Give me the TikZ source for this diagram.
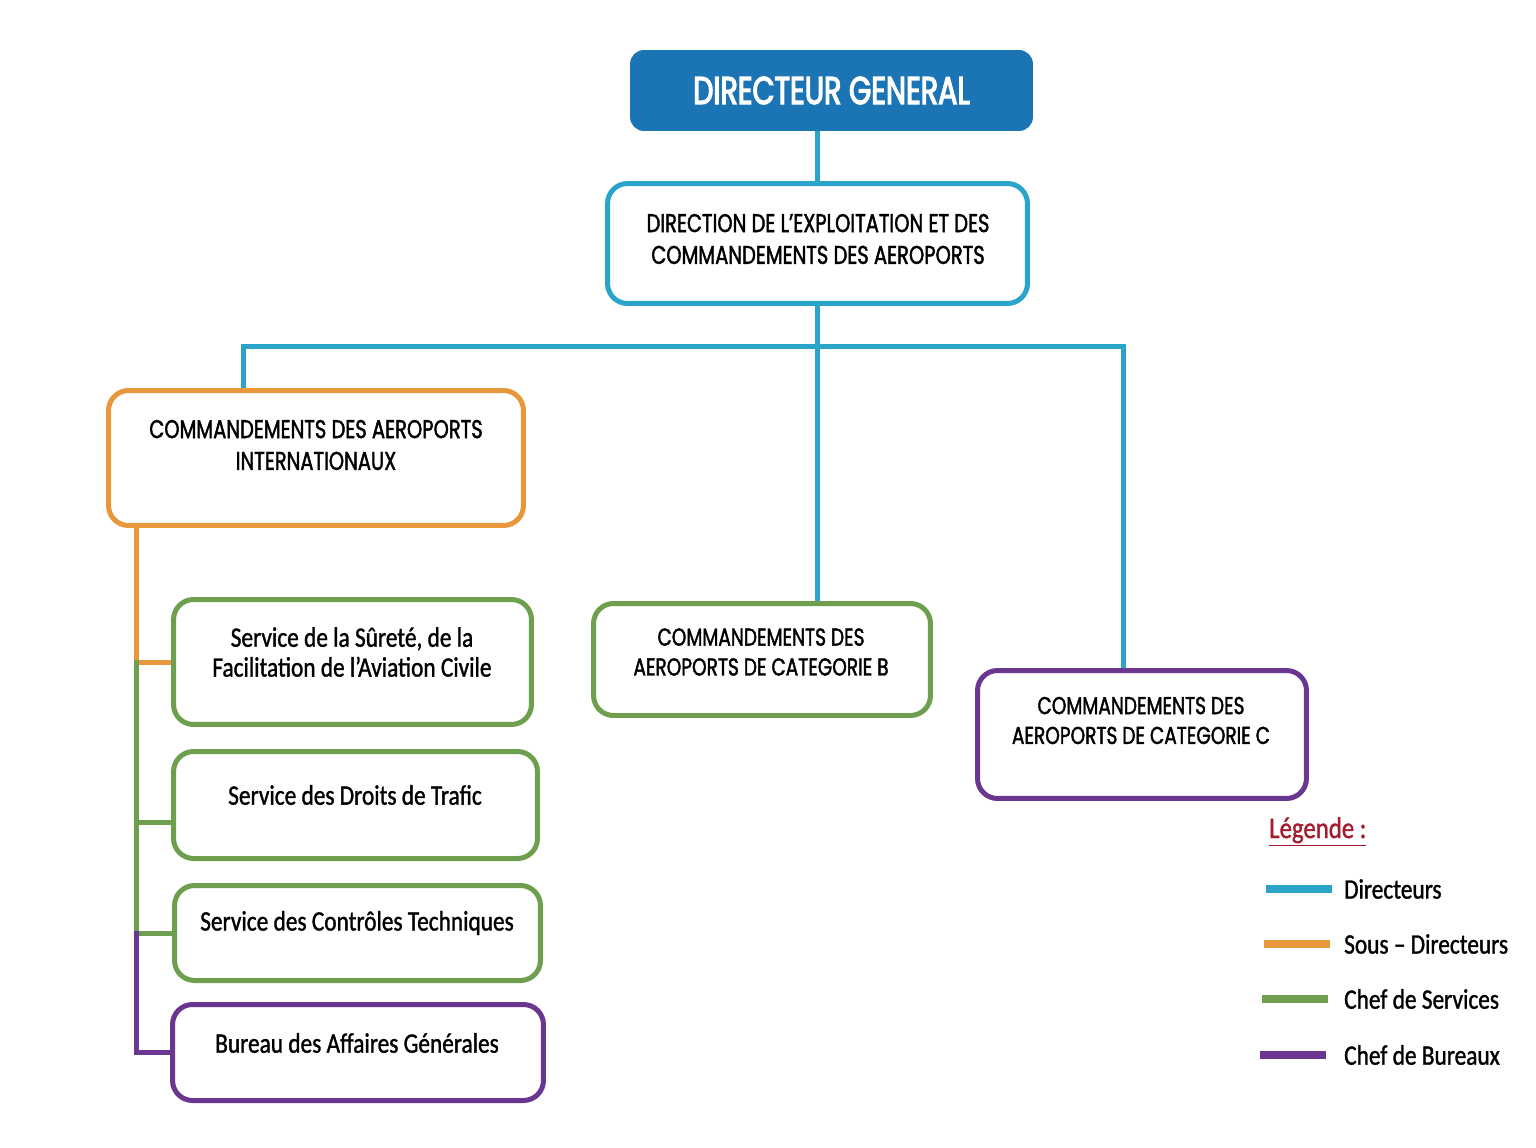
\documentclass[tikz,border=0pt]{standalone}
\usepackage{fontspec}
\setmainfont[FakeStretch=0.83,FakeBold=1.2]{Carlito}
\newfontfamily\capsfont[FakeStretch=0.76,FakeBold=1.6]{Poppins}
\newfontfamily\dgfont[FakeStretch=0.74,FakeBold=3.2]{Poppins}
\usepackage{tikz}
\usetikzlibrary{backgrounds}
\usetikzlibrary{positioning}
\definecolor{dgblue}{HTML}{1B74B3}
\definecolor{cdir}{HTML}{2AA4C8}
\definecolor{corange}{HTML}{E9973B}
\definecolor{cgreen}{HTML}{6E9F4E}
\definecolor{cpurple}{HTML}{6B368F}
\definecolor{cred}{HTML}{A31D2F}
\tikzstyle{box}=[rectangle,rounded corners=0.4cm,draw,line width=0.1cm,fill=white,inner sep=0pt]
\tikzstyle{lbl}=[align=center,font=\fontsize{16}{17}\selectfont]
\tikzstyle{caps}=[align=center,font=\capsfont\fontsize{14.6}{18.1}\selectfont]
\tikzstyle{capsb}=[align=center,font=\capsfont\fontsize{13.9}{17}\selectfont]
\tikzstyle{lnk}=[line width=0.1cm,line cap=rect]
\tikzstyle{swatch}=[rectangle,minimum width=1.32cm,minimum height=0.16cm,inner sep=0pt]

\begin{document}
\begin{tikzpicture}[x=0.02cm,y=-0.02cm]
  \useasboundingbox (0,0) rectangle (1536,1147);
  % direction
  \node[box,fill=dgblue,draw=none,rounded corners=0.28cm,minimum width=8.06cm,minimum height=1.62cm,
        text=white,font=\dgfont\fontsize{22}{26}\selectfont] (dg) at (831.5,90.5) {DIRECTEUR GENERAL};
  \node[box,draw=cdir,minimum width=8.4cm,minimum height=2.4cm] (dir) at (817.5,243.5) {};
  \node[caps] (dirt) at (818,239) {DIRECTION DE L’EXPLOITATION ET DES\\COMMANDEMENTS DES AEROPORTS};
  % commandements
  \node[box,draw=corange,minimum width=8.3cm,minimum height=2.7cm] (cai) at (316,458) {};
  \node[caps] (cait) at (316,445) {COMMANDEMENTS DES AEROPORTS\\INTERNATIONAUX};
  \node[box,draw=cgreen,minimum width=6.74cm,minimum height=2.24cm] (catb) at (762,659.5) {};
  \node[capsb] (catbt) at (761,652) {COMMANDEMENTS DES\\AEROPORTS DE CATEGORIE B};
  \node[box,draw=cpurple,minimum width=6.58cm,minimum height=2.56cm] (catc) at (1142,734.5) {};
  \node[capsb] (catct) at (1141,720.5) {COMMANDEMENTS DES\\AEROPORTS DE CATEGORIE C};
  % services
  \node[box,draw=cgreen,minimum width=7.16cm,minimum height=2.5cm] (s1) at (352.5,662) {};
  \node[lbl] (s1t) at (352,652) {Service de la Sûreté, de la\\Facilitation de l’Aviation Civile};
  \node[box,draw=cgreen,minimum width=7.28cm,minimum height=2.14cm] (s2) at (355.5,805) {};
  \node[lbl] (s2t) at (355,795) {Service des Droits de Trafic};
  \node[box,draw=cgreen,minimum width=7.32cm,minimum height=1.9cm] (s3) at (357.5,933) {};
  \node[lbl] (s3t) at (357,923) {Service des Contrôles Techniques};
  \node[box,draw=cpurple,minimum width=7.42cm,minimum height=1.92cm] (bag) at (358,1052.5) {};
  \node[lbl] (bagt) at (357,1043) {Bureau des Affaires Générales};
  % links
  \coordinate (bl) at (243,346);
  \coordinate (br) at (1123,346);
  \coordinate (tk) at (136,528);
  \begin{scope}[on background layer]
    \draw[lnk,cdir] (dir.north) -- (dir.north |- dg.south);
    \draw[lnk,cdir] (dir.south) -- (dir.south |- catb.north);
    \draw[lnk,cdir] (bl) -- (br);
    \draw[lnk,cdir] (bl) -- (bl |- cai.north);
    \draw[lnk,cdir] (br) -- (br |- catc.north);
    \draw[lnk,corange] (tk |- cai.south) -- (tk |- s1.west) -- (s1.west);
    \draw[lnk,cgreen] (tk |- s1.west) -- (tk |- s3.west);
    \draw[lnk,cgreen] ([yshift=-0.34cm]tk |- s2.west) -- ([yshift=-0.34cm]s2.west);
    \draw[lnk,cgreen] (tk |- s3.west) -- (s3.west);
    \draw[lnk,cpurple] (tk |- s3.west) -- (tk |- bag.west) -- (bag.west);
  \end{scope}
  % legend
  \node[anchor=west,text=cred,font=\fontsize{17}{18}\selectfont] (leg) at (1263,832) {\underline{Légende :}};
  \node[swatch,fill=cdir] (kdir) at (1299,889) {};
  \node[lbl,anchor=west] (kdirt) at (1338,889) {Directeurs};
  \node[swatch,fill=corange] (ksous) at (1296.5,944) {};
  \node[lbl,anchor=west] (ksoust) at (1338,944) {Sous – Directeurs};
  \node[swatch,fill=cgreen] (kserv) at (1295,999) {};
  \node[lbl,anchor=west] (kservt) at (1338,999) {Chef de Services};
  \node[swatch,fill=cpurple] (kbur) at (1293,1055) {};
  \node[lbl,anchor=west] (kburt) at (1338,1055) {Chef de Bureaux};
\end{tikzpicture}
\end{document}
